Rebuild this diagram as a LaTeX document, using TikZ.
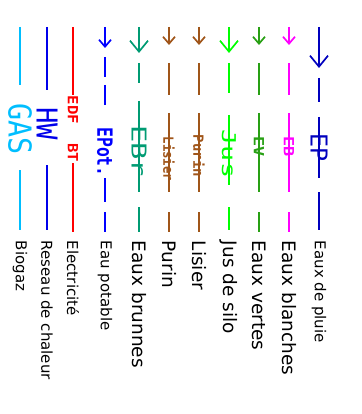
\documentclass[tikz,border=0pt]{standalone}
\usepackage{fontspec}
\setmainfont{DejaVu Sans}
\newfontfamily\lblfont{DejaVu Sans Mono}
\usetikzlibrary{arrows.meta}
\definecolor{cEP}{RGB}{0,0,190}
\definecolor{cEB}{RGB}{255,0,255}
\definecolor{cEV}{RGB}{40,160,20}
\definecolor{cJus}{RGB}{0,255,0}
\definecolor{cBrown}{RGB}{160,85,25}
\definecolor{cEBr}{RGB}{0,155,115}
\definecolor{cEPot}{RGB}{0,0,255}
\definecolor{cEDF}{RGB}{255,0,0}
\definecolor{cHW}{RGB}{0,0,235}
\definecolor{cGAS}{RGB}{0,190,255}
\begin{document}
\begin{tikzpicture}[x=1pt,y=-1pt,line width=1.7pt,
  bigarrow/.style={-{Straight Barb[length=11pt,width=18pt,line width=1.7pt]}},
  smallarrow/.style={-{Straight Barb[length=7pt,width=12pt,line width=1.7pt]}},
  tag/.style={rotate=-90,inner sep=0pt,font=\lblfont\fontsize{#1}{#1}\selectfont},
  tagb/.style={rotate=-90,inner sep=0pt,font=\lblfont\bfseries\fontsize{#1}{#1}\selectfont},
  legend/.style={rotate=-90,anchor=west,inner sep=0pt,font=\fontsize{18.5}{20}\selectfont},
  legendsm/.style={rotate=-90,anchor=west,inner sep=0pt,font=\fontsize{15}{17}\selectfont}]
\useasboundingbox (0,0) rectangle (361,414);
% Eaux de pluie
\draw[cEP,bigarrow] (319,27) -- (319,68);
\draw[cEP] (319,78) -- (319,102) (319,117) -- (319,178) (319,192) -- (319,230);
\node[tag=23.3,text=cEP] (tEP) at (319,147.5) {EP};
\node[legendsm] (lEP) at (319,240) {Eaux de pluie};
% Eaux blanches
\draw[cEB,smallarrow] (289,27) -- (289,45);
\draw[cEB] (289,63) -- (289,95) (289,113) -- (289,192) (289,212) -- (289,232);
\node[tagb=14,text=cEB] (tEB) at (289,147) {\scalebox{1.2}[1]{EB}};
\node[legend] (lEB) at (289,240) {Eaux blanches};
% Eaux vertes
\draw[cEV,smallarrow] (259,27) -- (259,45);
\draw[cEV] (259,63) -- (259,95) (259,113) -- (259,192) (259,212) -- (259,232);
\node[tagb=14,text=cEV] (tEV) at (259,147) {\scalebox{1.2}[1]{EV}};
\node[legend] (lEV) at (259,240) {Eaux vertes};
% Jus de silo
\draw[cJus,bigarrow] (229,27) -- (229,53);
\draw[cJus] (229,63) -- (229,93) (229,115) -- (229,185) (229,207) -- (229,230);
\node[tag=19,text=cJus] (tJus) at (229,154) {\scalebox{1.4}[1]{Jus}};
\node[legend] (lJus) at (229,240) {Jus de silo};
% Purin line / Lisier text
\draw[cBrown,smallarrow] (199,27) -- (199,45);
\draw[cBrown] (199,63) -- (199,95) (199,113) -- (199,192) (199,212) -- (199,232);
\node[tagb=14,text=cBrown] (tPurin) at (199,156) {\scalebox{1.0}[1]{Purin}};
\node[legend] (lLisier) at (199,240) {Lisier};
% Lisier line / Purin text
\draw[cBrown,smallarrow] (169,27) -- (169,45);
\draw[cBrown] (169,63) -- (169,95) (169,113) -- (169,192) (169,212) -- (169,232);
\node[tagb=14,text=cBrown] (tLisier) at (169,159) {\scalebox{0.88}[1]{Lisier}};
\node[legend] (lPurin) at (169,240) {Purin};
% Eaux brunnes
\draw[cEBr,bigarrow] (139,27) -- (139,53);
\draw[cEBr] (139,63) -- (139,83) (139,101) -- (139,192) (139,207) -- (139,232);
\node[tag=20.5,text=cEBr] (tEBr) at (139,151) {\scalebox{1.4}[1]{EBr}};
\node[legend] (lEBr) at (139,240) {Eaux brunnes};
% Eau potable
\draw[cEPot,smallarrow] (105,27) -- (105,48);
\draw[cEPot] (105,57) -- (105,77) (105,85) -- (105,105) (105,178) -- (105,202) (105,212) -- (105,232);
\node[tagb=21,text=cEPot] (tEPot) at (105,152) {\scalebox{0.78}[1]{EPot.}};
\node[legendsm] (lEPot) at (105,240) {Eau potable};
% Electricite
\draw[cEDF] (73,27) -- (73,95) (73,163) -- (73,232);
\node[tagb=14,text=cEDF] (tEDF) at (73,129) {\scalebox{1.12}[1]{EDF\ \ BT}};
\node[legendsm] (lEDF) at (73,240) {Electricité};
% Reseau de chaleur
\draw[cHW] (47,27) -- (47,90) (47,165) -- (47,230);
\node[tag=28.8,text=cHW] (tHW) at (47,124) {\scalebox{0.95}[1]{HW}};
\node[legendsm] (lHW) at (47,240) {Reseau de chaleur};
% Biogaz
\draw[cGAS] (20,27) -- (20,85) (20,170) -- (20,230);
\node[tag=31.5,text=cGAS] (tGAS) at (20,129) {\scalebox{0.9}[1]{GAS}};
\node[legendsm] (lGAS) at (20,240) {Biogaz};
\end{tikzpicture}
\end{document}
